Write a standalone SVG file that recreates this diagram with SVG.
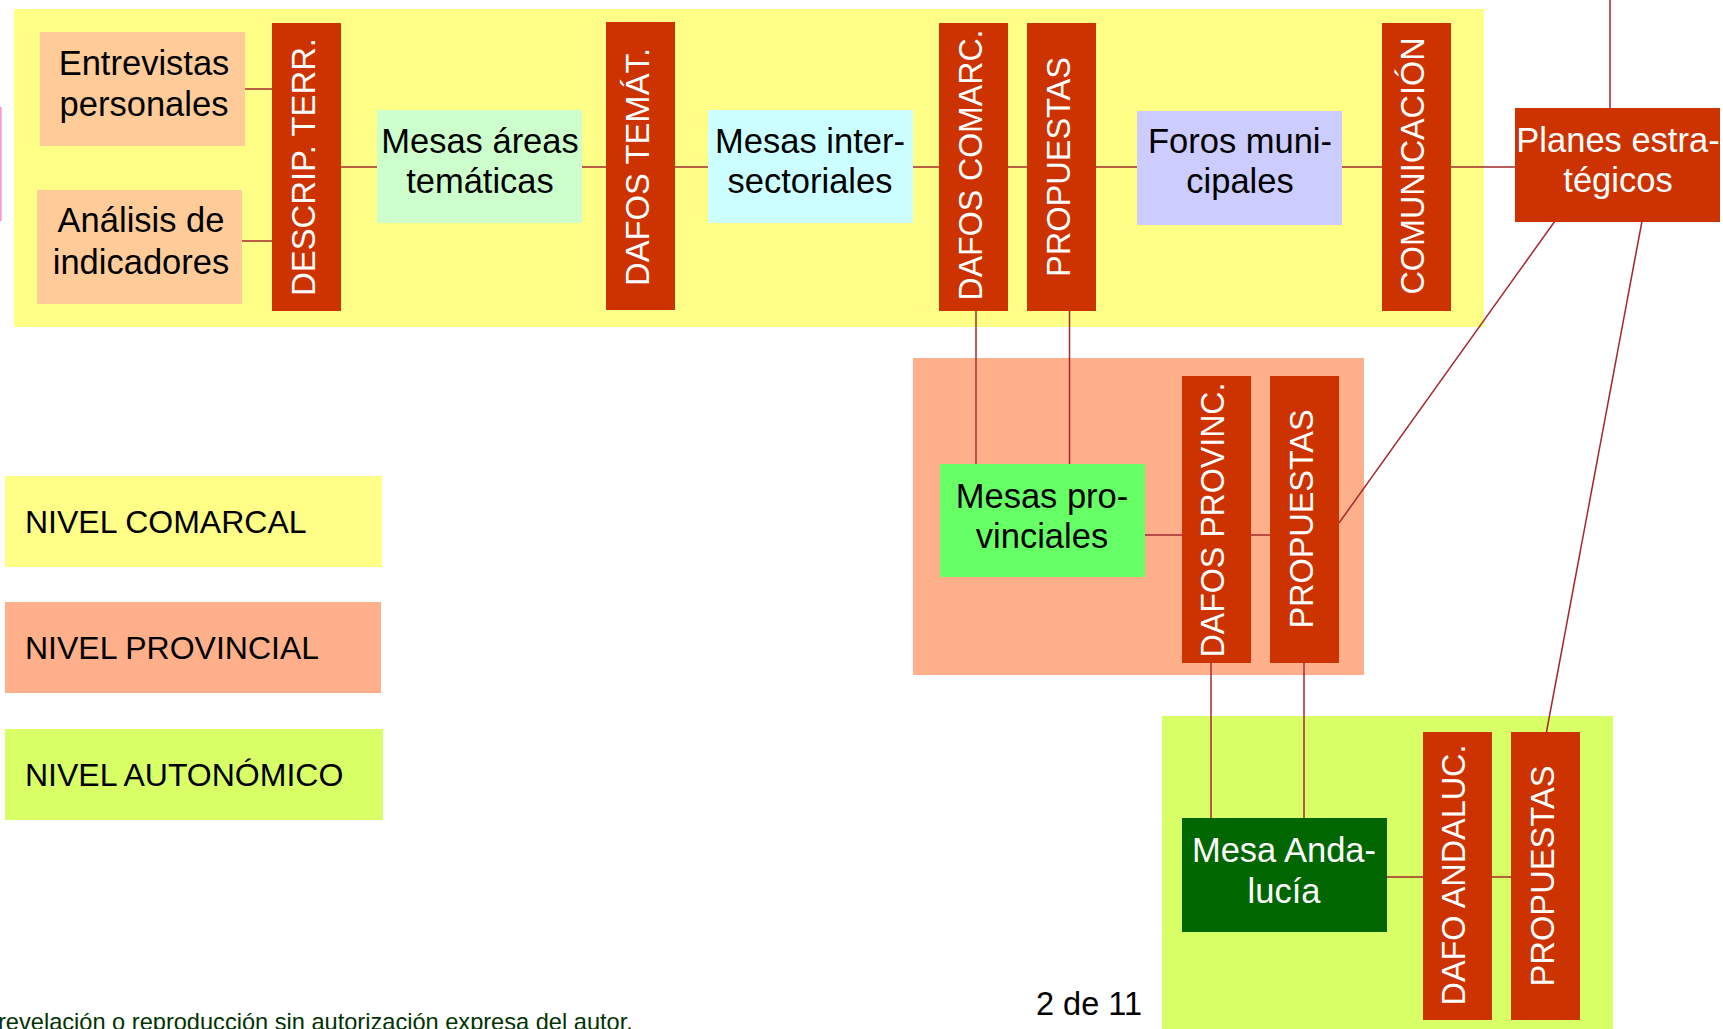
<svg xmlns="http://www.w3.org/2000/svg" width="1723" height="1029" viewBox="0 0 1723 1029">
<style>
text{font-family:"Liberation Sans",Arial,Helvetica,sans-serif}
.t{font-size:34.5px;fill:#000;text-anchor:middle}
.tw{font-size:34.5px;fill:#fff;text-anchor:middle}
.v{font-size:34px;fill:#fff;text-anchor:middle}
.lg{font-size:32px;fill:#000}
.red{fill:#CC3300}
.con line{stroke:#A3282E;stroke-width:1.5}
</style>
<rect width="1723" height="1029" fill="#fff"/>
<!-- level bands -->
<g id="band-comarcal"><rect x="14" y="9" width="1470" height="318" fill="#FFFF88"/></g>
<g id="band-provincial"><rect x="913" y="358" width="451" height="317" fill="#FFB08A"/></g>
<g id="band-autonomico"><rect x="1162" y="716" width="451" height="313" fill="#D9FF66"/></g>
<rect x="0" y="107" width="1.7" height="114" fill="#FF99CC"/>

<g id="connectors" class="con">
<line x1="245" y1="89" x2="272" y2="89"/>
<line x1="242" y1="241" x2="272" y2="241"/>
<line x1="340" y1="167" x2="377" y2="167"/>
<line x1="582" y1="167" x2="606" y2="167"/>
<line x1="674" y1="167" x2="708" y2="167"/>
<line x1="913" y1="167" x2="939" y2="167"/>
<line x1="1008" y1="167" x2="1027" y2="167"/>
<line x1="1096" y1="167" x2="1137" y2="167"/>
<line x1="1342" y1="167" x2="1382" y2="167"/>
<line x1="1451" y1="167" x2="1515" y2="167"/>
<line x1="1610" y1="0" x2="1610" y2="108"/>
<line x1="976" y1="310" x2="976" y2="464"/>
<line x1="1069.5" y1="310" x2="1069.5" y2="464"/>
<line x1="1145" y1="535" x2="1182" y2="535"/>
<line x1="1251" y1="535" x2="1270" y2="535"/>
<line x1="1339" y1="523" x2="1555" y2="221"/>
<line x1="1211" y1="663" x2="1211" y2="818"/>
<line x1="1304" y1="663" x2="1304" y2="818"/>
<line x1="1387" y1="877" x2="1423" y2="877"/>
<line x1="1492" y1="877" x2="1511" y2="877"/>
<line x1="1546.5" y1="732" x2="1642" y2="221"/>
</g>

<g id="entrevistas"><rect x="40" y="32" width="205" height="114" fill="#FFCC99"/>
<text class="t" x="144" y="75">Entrevistas</text><text class="t" x="144" y="116">personales</text></g>
<g id="analisis"><rect x="37" y="190" width="205" height="114" fill="#FFCC99"/>
<text class="t" x="141" y="232">Análisis de</text><text class="t" x="141" y="274">indicadores</text></g>
<g id="descrip-terr"><rect class="red" x="272" y="23" width="69" height="288"/>
<text class="v" transform="translate(315,167) rotate(-90)" textLength="258" lengthAdjust="spacingAndGlyphs">DESCRIP. TERR.</text></g>
<g id="mesas-areas"><rect x="377" y="110" width="205" height="113" fill="#CCFFCC"/>
<text class="t" x="480" y="153">Mesas áreas</text><text class="t" x="480" y="193">temáticas</text></g>
<g id="dafos-temat"><rect class="red" x="606" y="22" width="69" height="288"/>
<text class="v" transform="translate(649,167) rotate(-90)" textLength="238" lengthAdjust="spacingAndGlyphs">DAFOS TEMÁT.</text></g>
<g id="mesas-inter"><rect x="708" y="110" width="205" height="113" fill="#CCFFFF"/>
<text class="t" x="810" y="153">Mesas inter-</text><text class="t" x="810" y="193">sectoriales</text></g>
<g id="dafos-comarc"><rect class="red" x="939" y="23" width="69" height="288"/>
<text class="v" transform="translate(982,165) rotate(-90)" textLength="271" lengthAdjust="spacingAndGlyphs">DAFOS COMARC.</text></g>
<g id="propuestas-comarc"><rect class="red" x="1027" y="23" width="69" height="288"/>
<text class="v" transform="translate(1070,167) rotate(-90)" textLength="220" lengthAdjust="spacingAndGlyphs">PROPUESTAS</text></g>
<g id="foros"><rect x="1137" y="111" width="205" height="114" fill="#CCCCFF"/>
<text class="t" x="1240" y="153">Foros muni-</text><text class="t" x="1240" y="193">cipales</text></g>
<g id="comunicacion"><rect class="red" x="1382" y="23" width="69" height="288"/>
<text class="v" transform="translate(1424,166) rotate(-90)" textLength="257" lengthAdjust="spacingAndGlyphs">COMUNICACIÓN</text></g>
<g id="planes"><rect class="red" x="1515" y="108" width="205" height="114"/>
<text class="tw" x="1618" y="152">Planes estra-</text><text class="tw" x="1618" y="192">tégicos</text></g>

<g id="mesas-prov"><rect x="940" y="464" width="205" height="113" fill="#66FF66"/>
<text class="t" x="1042" y="508">Mesas pro-</text><text class="t" x="1042" y="548">vinciales</text></g>
<g id="dafos-provinc"><rect class="red" x="1182" y="376" width="69" height="287"/>
<text class="v" transform="translate(1224,520) rotate(-90)" textLength="275" lengthAdjust="spacingAndGlyphs">DAFOS PROVINC.</text></g>
<g id="propuestas-prov"><rect class="red" x="1270" y="376" width="69" height="287"/>
<text class="v" transform="translate(1312.5,519) rotate(-90)" textLength="219" lengthAdjust="spacingAndGlyphs">PROPUESTAS</text></g>

<g id="mesa-andalucia"><rect x="1182" y="818" width="205" height="114" fill="#006600"/>
<text class="tw" x="1284" y="862">Mesa Anda-</text><text class="tw" x="1284" y="903">lucía</text></g>
<g id="dafo-andaluc"><rect class="red" x="1423" y="732" width="69" height="288"/>
<text class="v" transform="translate(1465,875) rotate(-90)" textLength="261" lengthAdjust="spacingAndGlyphs">DAFO ANDALUC.</text></g>
<g id="propuestas-andaluc"><rect class="red" x="1511" y="732" width="69" height="288"/>
<text class="v" transform="translate(1554,876) rotate(-90)" textLength="221" lengthAdjust="spacingAndGlyphs">PROPUESTAS</text></g>

<g id="legend-comarcal"><rect x="5" y="476" width="377" height="91" fill="#FFFF88"/><text class="lg" x="25" y="533">NIVEL COMARCAL</text></g>
<g id="legend-provincial"><rect x="5" y="602" width="376" height="91" fill="#FFB08A"/><text class="lg" x="25" y="659">NIVEL PROVINCIAL</text></g>
<g id="legend-autonomico"><rect x="5" y="729" width="378" height="91" fill="#D9FF66"/><text class="lg" x="25" y="786">NIVEL AUTONÓMICO</text></g>

<text x="1036" y="1015" font-size="32.5" fill="#000">2 de 11</text>
<text x="-2" y="1030" font-size="23.6" fill="#003300">revelación o reproducción sin autorización expresa del autor.</text>
</svg>
